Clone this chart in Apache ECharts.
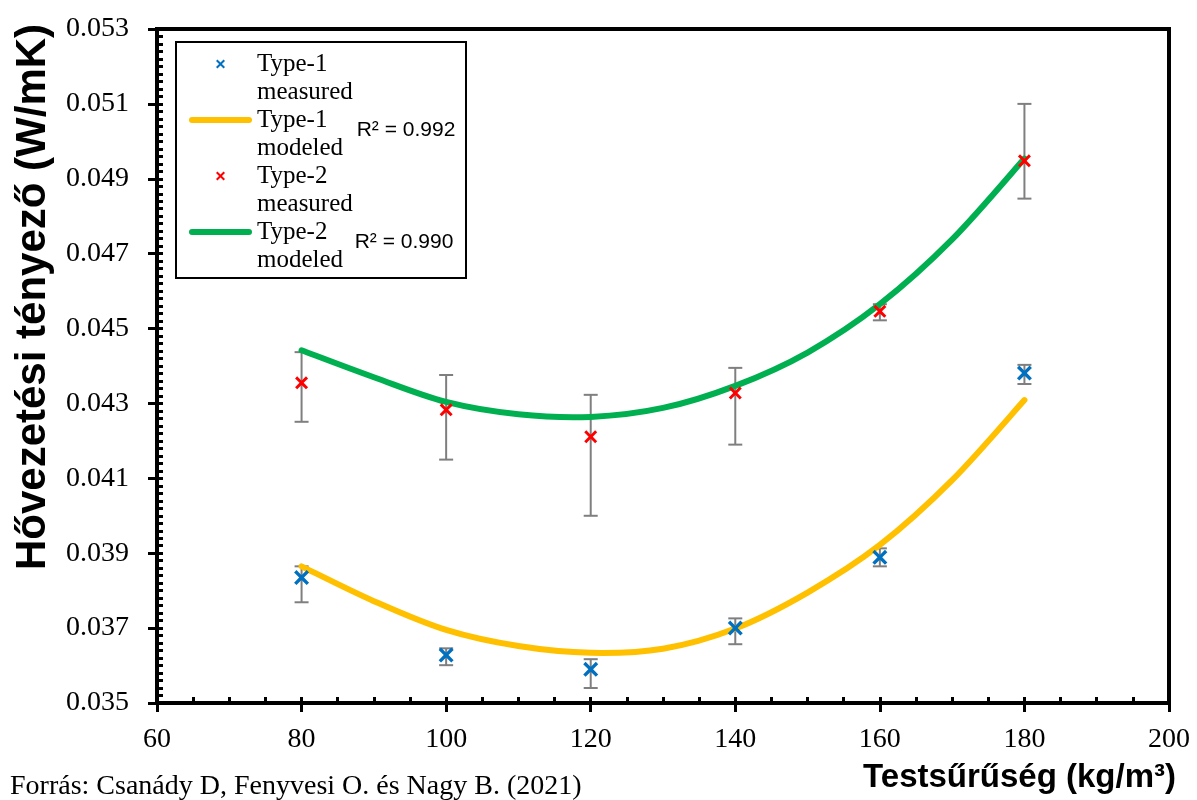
<!DOCTYPE html>
<html>
<head>
<meta charset="utf-8">
<script src="https://cdn.jsdelivr.net/npm/echarts@6/dist/echarts.min.js"></script>
<style>
  html, body { margin: 0; padding: 0; background: #fff; }
  #view { width: 1197px; height: 800px; }
</style>
</head>
<body>
<div id="view"></div>
<script>
// mért pontok (testsűrűség)
var densities = [80, 100, 120, 140, 160, 180];
var type1Measured = [0.03835, 0.03628, 0.03590, 0.03700, 0.03889, 0.04381];
var type1Low = [0.03769, 0.03601, 0.03540, 0.03657, 0.03865, 0.04352];
var type1High = [0.03865, 0.03646, 0.03617, 0.03726, 0.03913, 0.04403];
var type2Measured = [0.04355, 0.04283, 0.04211, 0.04328, 0.04546, 0.04948];
var type2Low = [0.04251, 0.04150, 0.04000, 0.04190, 0.04522, 0.04847];
var type2High = [0.04437, 0.04376, 0.04323, 0.04395, 0.04565, 0.05100];
// modellezett görbék
var modelX = [80, 90, 100, 110, 120, 130, 140, 150, 160, 170, 180];
var type1Model = [0.03865, 0.03772, 0.03695, 0.03652, 0.03634, 0.03645, 0.03699, 0.03795, 0.03922, 0.04095, 0.04309];
var type2Model = [0.04442, 0.04370, 0.04304, 0.04271, 0.04264, 0.04288, 0.04347, 0.04436, 0.04565, 0.04738, 0.04954];
// tengely feliratok
var yTicks = [0.035, 0.037, 0.039, 0.041, 0.043, 0.045, 0.047, 0.049, 0.051, 0.053];
var r2Labels = ['R\u00b2 = 0.992', 'R\u00b2 = 0.990'];

var myChart = echarts.init(document.getElementById('view'));

function pairs(xs, ys) {
    return xs.map(function (x, i) { return [x, ys[i]]; });
}
function errData(lo, hi) {
    return densities.map(function (x, i) { return [x, lo[i], hi[i]]; });
}
function renderErr(params, api) {
    var x = api.value(0);
    var top = api.coord([x, api.value(2)]);
    var bot = api.coord([x, api.value(1)]);
    var w = 7;
    var st = { stroke: '#7f7f7f', lineWidth: 2 };
    return {
        type: 'group',
        children: [
            { type: 'line', shape: { x1: top[0], y1: top[1], x2: bot[0], y2: bot[1] }, style: st },
            { type: 'line', shape: { x1: top[0] - w, y1: top[1], x2: top[0] + w, y2: top[1] }, style: st },
            { type: 'line', shape: { x1: bot[0] - w, y1: bot[1], x2: bot[0] + w, y2: bot[1] }, style: st }
        ]
    };
}
// sima görbe (Catmull-Rom) a tengely koordinátáin át
function renderCurve(xs, ys, color) {
    return function (params, api) {
        if (params.dataIndex !== 0) return null;
        var p = xs.map(function (x, i) { return api.coord([x, ys[i]]); });
        var d = 'M' + p[0][0] + ',' + p[0][1];
        for (var i = 0; i < p.length - 1; i++) {
            var p0 = p[i - 1] || p[i], p1 = p[i], p2 = p[i + 1], p3 = p[i + 2] || p[i + 1];
            var c1x = p1[0] + (p2[0] - p0[0]) / 6, c1y = p1[1] + (p2[1] - p0[1]) / 6;
            var c2x = p2[0] - (p3[0] - p1[0]) / 6, c2y = p2[1] - (p3[1] - p1[1]) / 6;
            d += 'C' + c1x + ',' + c1y + ',' + c2x + ',' + c2y + ',' + p2[0] + ',' + p2[1];
        }
        return {
            type: 'path',
            shape: { pathData: d },
            style: { fill: null, stroke: color, lineWidth: 6, lineCap: 'round', lineJoin: 'round' }
        };
    };
}

var cross = 'path://M0,1.6L1.6,0L5,3.4L8.4,0L10,1.6L6.6,5L10,8.4L8.4,10L5,6.6L1.6,10L0,8.4L3.4,5Z';
var bar = 'path://M3,0L60,0A3,3,0,0,1,60,6L3,6A3,3,0,0,1,3,0Z';
var serif = '"Liberation Serif", "Times New Roman", serif';
var sans = '"Liberation Sans", Arial, sans-serif';

var option = {
    backgroundColor: '#fff',
    animation: false,
    grid: {
        left: 157, right: 28, top: 29, bottom: 97,
        show: true, borderColor: '#000', borderWidth: 4
    },
    legend: {
        left: 189,
        top: 22,
        orient: 'vertical',
        padding: 0,
        itemWidth: 63,
        itemHeight: 9,
        itemGap: -28,
        selectedMode: false,
        data: [
            { name: 'Type-1\nmeasured', icon: cross },
            { name: 'Type-1\nmodeled', icon: bar },
            { name: 'Type-2\nmeasured', icon: cross },
            { name: 'Type-2\nmodeled', icon: bar }
        ],
        formatter: function (name) { return '\n' + name; },
        textStyle: {
            fontFamily: serif, fontSize: 25, color: '#000', lineHeight: 28
        }
    },
    xAxis: [{
        type: 'value', min: 60, max: 200, interval: 20,
        axisLine: { lineStyle: { color: '#000', width: 4 } },
        axisTick: { show: true, inside: false, length: 9, lineStyle: { color: '#000', width: 3 } },
        axisLabel: { fontFamily: serif, fontSize: 28, color: '#000', margin: 23 },
        splitLine: { show: false }
    }, {
        type: 'value', min: 60, max: 200, interval: 5, position: 'bottom',
        axisLine: { show: false },
        axisTick: { show: true, inside: true, length: 6, lineStyle: { color: '#000', width: 3 } },
        axisLabel: { show: false },
        splitLine: { show: false }
    }],
    yAxis: [{
        type: 'value', min: 0.035, max: 0.053, interval: 0.001,
        axisLine: { show: true, lineStyle: { color: '#000', width: 4 } },
        axisTick: { show: true, inside: false, length: 9, customValues: yTicks, lineStyle: { color: '#000', width: 3 } },
        axisLabel: {
            fontFamily: serif, fontSize: 28, color: '#000', margin: 28,
            customValues: yTicks,
            formatter: function (v) { return v.toFixed(3); }
        },
        splitLine: { show: false }
    }, {
        type: 'value', min: 0.035, max: 0.053, interval: 0.0002, position: 'left',
        axisLine: { show: false },
        axisTick: { show: true, inside: true, length: 6, lineStyle: { color: '#000', width: 3 } },
        axisLabel: { show: false },
        splitLine: { show: false }
    }],
    graphic: [
        {
            type: 'rect', z: 3,
            shape: { x: 176, y: 42, width: 290, height: 236 },
            style: { fill: '#fff', stroke: '#000', lineWidth: 2 }
        },
        {
            type: 'text', z: 5, x: 406, y: 130,
            style: { text: r2Labels[0], font: '21px ' + sans, fill: '#000', textAlign: 'center', textVerticalAlign: 'middle' }
        },
        {
            type: 'text', z: 5, x: 404, y: 242,
            style: { text: r2Labels[1], font: '21px ' + sans, fill: '#000', textAlign: 'center', textVerticalAlign: 'middle' }
        },
        {
            type: 'text', x: 33, y: 297, rotation: Math.PI / 2,
            style: { text: 'Hővezetési tényező (W/mK)', font: 'bold 42px ' + sans, fill: '#000', textAlign: 'center', textVerticalAlign: 'middle' }
        },
        {
            type: 'text', x: 1176, y: 778,
            style: { text: 'Testsűrűség (kg/m³)', font: 'bold 33px ' + sans, fill: '#000', textAlign: 'right', textVerticalAlign: 'middle' }
        },
        {
            type: 'text', x: 10, y: 787,
            style: { text: 'Forrás: Csanády D, Fenyvesi O. és Nagy B. (2021)', font: '28px ' + serif, fill: '#000', textAlign: 'left', textVerticalAlign: 'middle' }
        }
    ],
    series: [{
        name: 'err1', type: 'custom', z: 1,
        renderItem: renderErr, encode: { x: 0, y: [1, 2] },
        data: errData(type1Low, type1High)
    }, {
        name: 'err2', type: 'custom', z: 1,
        renderItem: renderErr, encode: { x: 0, y: [1, 2] },
        data: errData(type2Low, type2High)
    }, {
        name: 'Type-1\nmodeled', type: 'custom', z: 2,
        itemStyle: { color: '#FFC000' },
        renderItem: renderCurve(modelX, type1Model, '#FFC000'),
        encode: { x: 0, y: 1 },
        data: pairs(modelX, type1Model)
    }, {
        name: 'Type-2\nmodeled', type: 'custom', z: 2,
        itemStyle: { color: '#00B050' },
        renderItem: renderCurve(modelX, type2Model, '#00B050'),
        encode: { x: 0, y: 1 },
        data: pairs(modelX, type2Model)
    }, {
        name: 'Type-1\nmeasured', type: 'scatter', z: 3,
        symbol: cross, symbolSize: 15, symbolKeepAspect: true,
        itemStyle: { color: '#0070C0', opacity: 1 },
        data: pairs(densities, type1Measured)
    }, {
        name: 'Type-2\nmeasured', type: 'scatter', z: 3,
        symbol: cross, symbolSize: 13, symbolKeepAspect: true,
        itemStyle: { color: '#FF0000', opacity: 1 },
        data: pairs(densities, type2Measured)
    }]
};
myChart.setOption(option);
</script>
</body>
</html>
